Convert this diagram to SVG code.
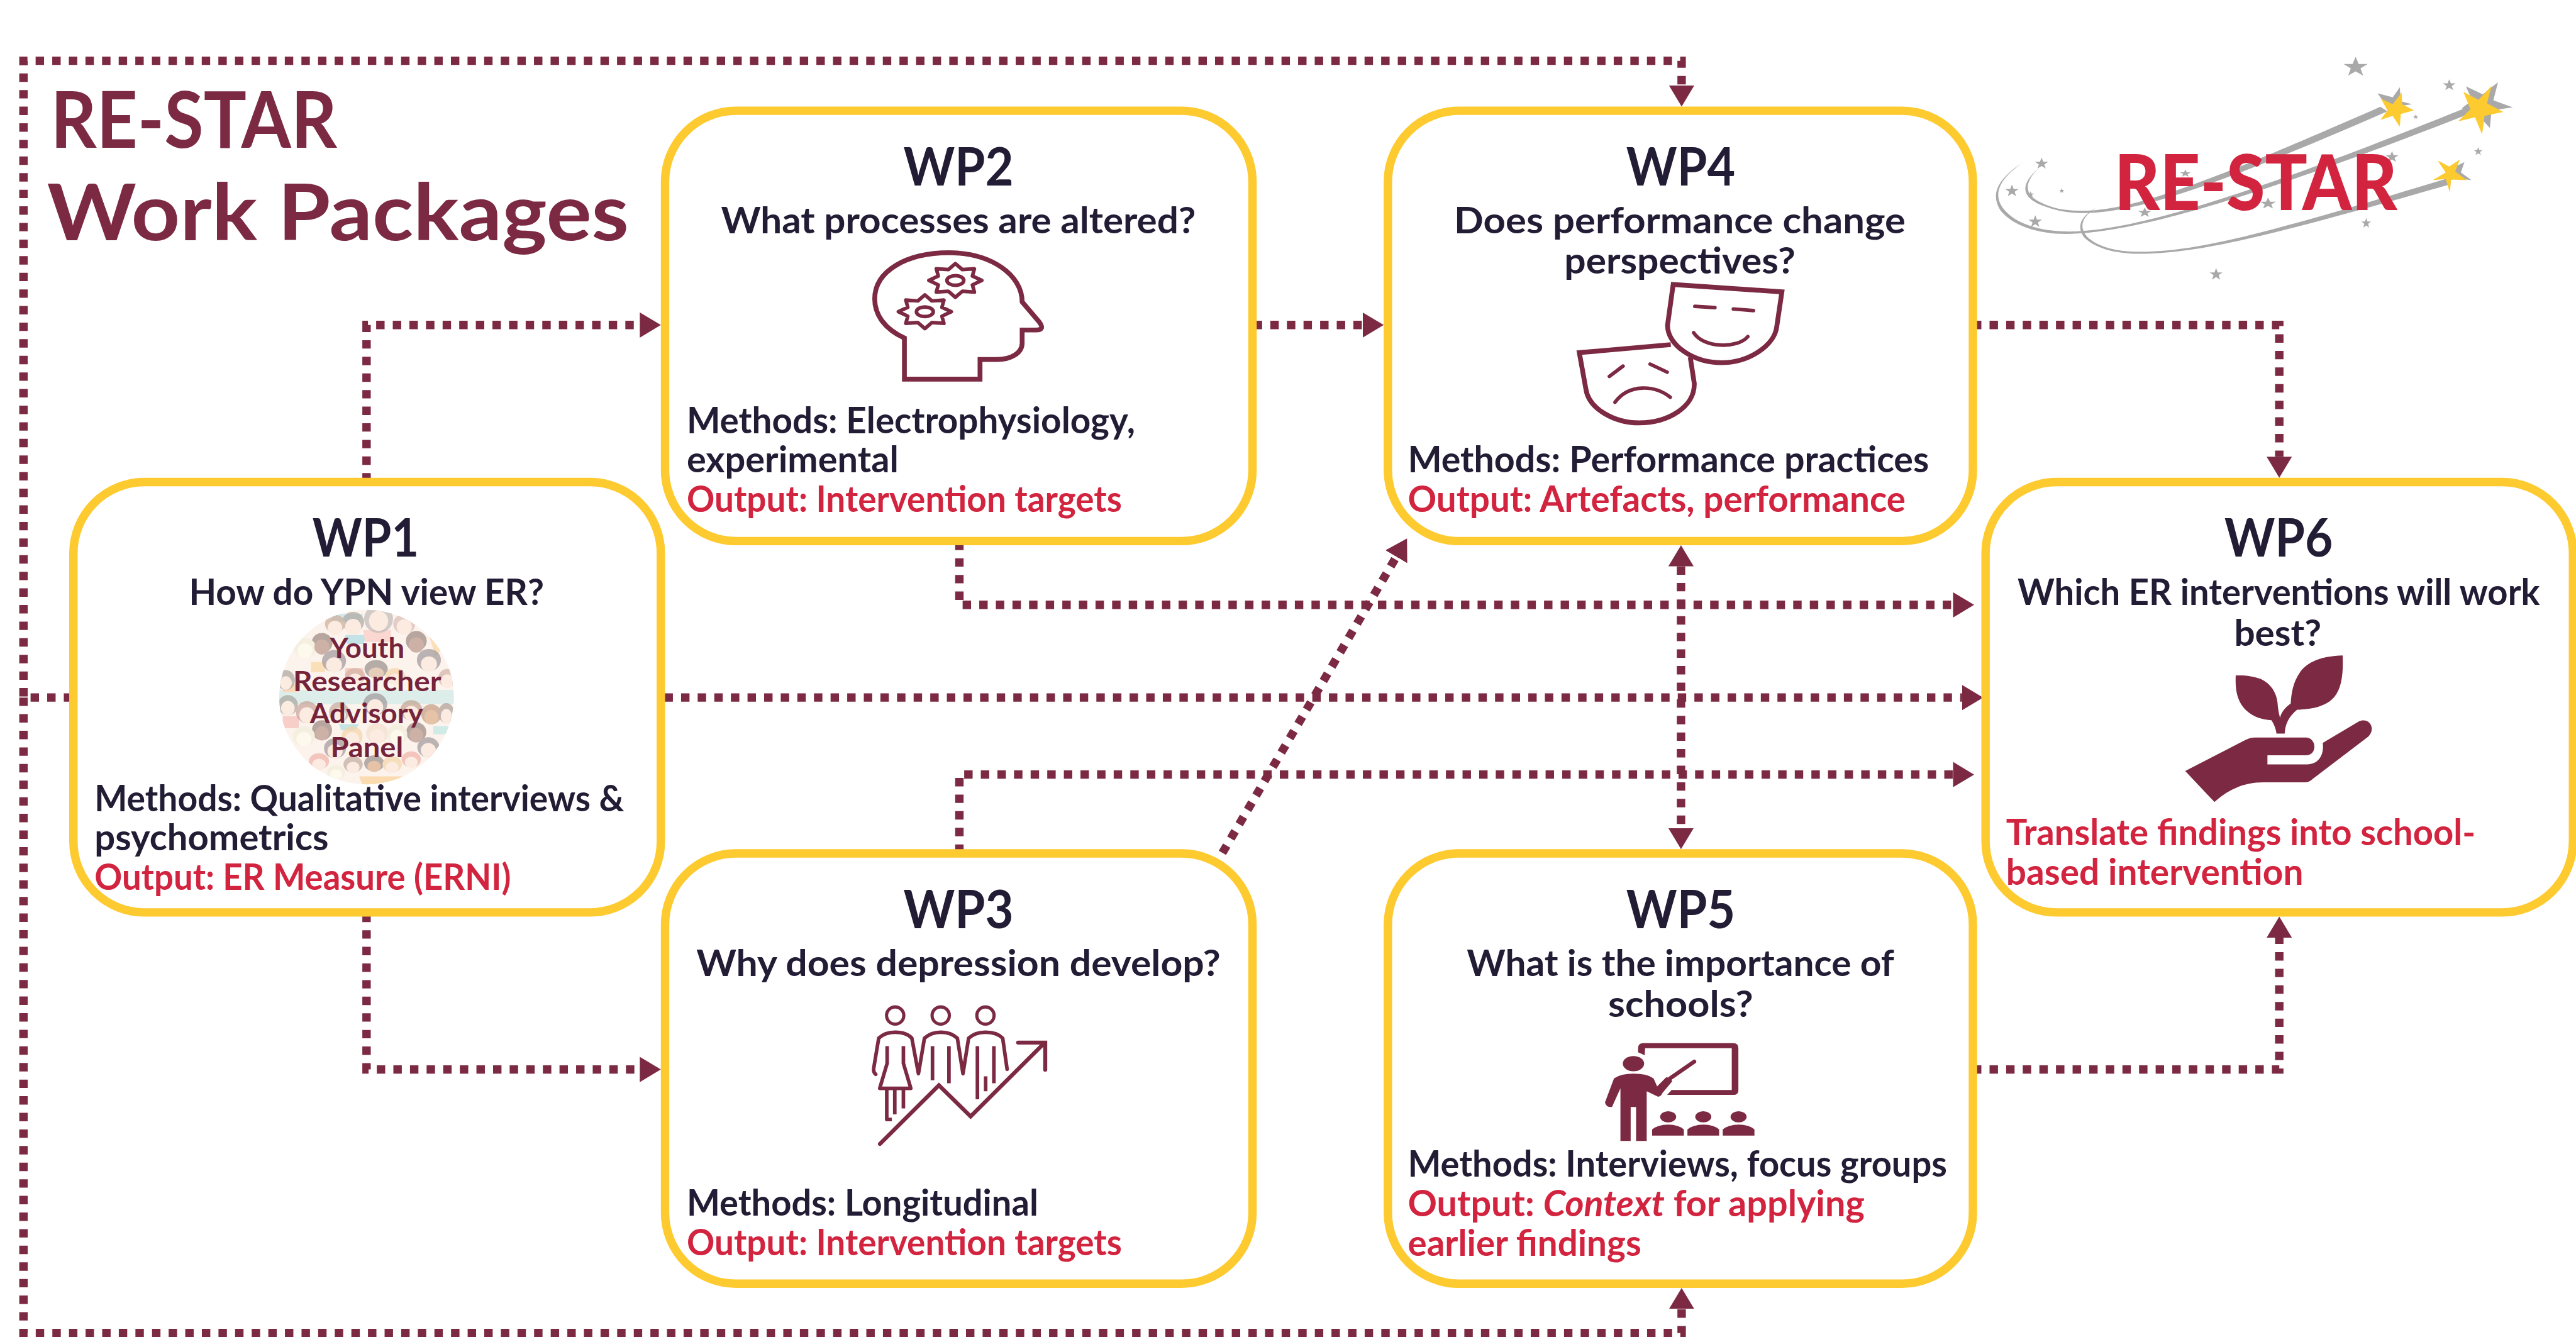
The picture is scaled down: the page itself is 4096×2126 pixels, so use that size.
<svg xmlns="http://www.w3.org/2000/svg" width="4096" height="2126" viewBox="0 0 4096 2126">
<style>
text{font-family:Lato,"Liberation Sans",sans-serif;font-weight:700}
.box{fill:#fff;stroke:#fdca2f;stroke-width:14}
.h{font-size:88px;fill:#221c35}
.b{font-size:59px;fill:#221c35}
.o{font-size:59px;fill:#d2233f}
.t{font-size:131px;fill:#7c2a43}
.y{font-size:46px;fill:#75233a}
.c{fill:none;stroke:#7c2a43;stroke-width:14;stroke-dasharray:14 13.6}
.i{fill:none;stroke:#7c2a43;stroke-width:24}
.f{fill:#7c2a43}
.g{fill:#a9a9a9}
.s{fill:#fdca2f}
</style>
<defs>
<marker id="a" markerUnits="userSpaceOnUse" markerWidth="36" markerHeight="44" refX="0" refY="22" orient="auto-start-reverse"><path d="M0 1L35 22L0 43Z" fill="#7c2a43"/></marker>
<polygon id="st" points="0,-1 .24,-.31 .95,-.31 .38,.12 .59,.81 0,.4 -.59,.81 -.38,.12 -.95,-.31 -.24,-.31"/>
<polygon id="gear" points="132,0 85,-22 95,-58 35,-54 0,-84 -35,-54 -95,-58 -85,-22 -132,0 -85,22 -95,58 -35,54 0,84 35,54 95,58 85,22"/>
<clipPath id="cc"><circle cx="537" cy="505" r="435"/></clipPath>
</defs>
<rect width="4096" height="2126" fill="#fff"/>
<g transform="scale(.95701)">
<g id="connectors">
<path class="c" d="M120 1159H39V101H2794V142" marker-end="url(#a)"/>
<path class="c" d="M39 1159V2215H2794V2175" marker-end="url(#a)"/>
<path class="c" d="M609 800V540H1063" marker-end="url(#a)"/>
<path class="c" d="M2083 540H2264" marker-end="url(#a)"/>
<path class="c" d="M3278 540H3787V759" marker-end="url(#a)"/>
<path class="c" d="M1594 900V1005H3245" marker-end="url(#a)"/>
<path class="c" d="M1104 1159H3260" marker-end="url(#a)"/>
<path class="c" d="M1594 1417V1287H3245" marker-end="url(#a)"/>
<path class="c" d="M2031 1417L2320 925" marker-end="url(#a)"/>
<path class="c" d="M2793 941V1376" marker-start="url(#a)" marker-end="url(#a)"/>
<path class="c" d="M609 1518V1777H1063" marker-end="url(#a)"/>
<path class="c" d="M3278 1777H3787V1558" marker-end="url(#a)"/>
</g>
<g id="title">
<text class="t" x="84" y="246" textLength="476" lengthAdjust="spacingAndGlyphs">RE-STAR</text>
<text class="t" x="78" y="399" textLength="967" lengthAdjust="spacingAndGlyphs">Work Packages</text>
</g>
<g id="wp1">
<rect class="box" x="122" y="801" width="976" height="715" rx="118"/>
<text class="h" x="519" y="925" textLength="177" lengthAdjust="spacingAndGlyphs">WP1</text>
<text class="b" x="314" y="1005" textLength="590" lengthAdjust="spacingAndGlyphs">How do YPN view ER?</text>
<g transform="translate(430 990) scale(.3333)">
<g clip-path="url(#cc)">
<rect x="90" y="60" width="900" height="900" fill="#fbeee6"/>
<g opacity=".75">
<path d="M100 470H980V540H100Z" fill="#bfe3e0"/>
<path d="M380 90H520L500 130H350Z" fill="#a8d8dc"/>
<path d="M430 195H540L520 240H440Z" fill="#8fd0d8"/>
<path d="M400 640H500L480 670H410Z" fill="#8fd0d8"/>
<path d="M870 650H970V690H870Z" fill="#a8dcd8"/>
<path d="M130 440H210L200 480H120Z" fill="#f9bd80"/>
<path d="M520 170H660V230H530Z" fill="#f7b8b0"/>
<path d="M260 330H330V380H260Z" fill="#f9c880"/>
<path d="M120 600H200V660H120Z" fill="#f5a8a0"/>
<path d="M500 900H720L690 950H520Z" fill="#f9c070"/>
<path d="M430 360H520V400H430Z" fill="#f5a898"/>
<path d="M840 170L920 260L880 300Z" fill="#f9c880"/>
</g>
<g fill="#a59c98" opacity=".7">
<ellipse cx="597" cy="115" rx="72" ry="70"/><ellipse cx="470" cy="130" rx="55" ry="50" fill="#8a8078"/><ellipse cx="380" cy="140" rx="50" ry="45" fill="#b88a70"/><ellipse cx="725" cy="140" rx="55" ry="50" fill="#c9a098"/>
<ellipse cx="315" cy="235" rx="52" ry="50" fill="#6e5248"/><ellipse cx="785" cy="225" rx="52" ry="50" fill="#6e5248"/><ellipse cx="230" cy="260" rx="55" ry="50" fill="#ece6c8"/>
<ellipse cx="375" cy="325" rx="60" ry="55" fill="#776c70"/><ellipse cx="848" cy="320" rx="60" ry="55" fill="#776c70"/><ellipse cx="585" cy="365" rx="58" ry="45" fill="#6a5e58"/><ellipse cx="680" cy="400" rx="50" ry="40" fill="#f0c080"/><ellipse cx="480" cy="400" rx="50" ry="40" fill="#c09080"/><ellipse cx="940" cy="410" rx="45" ry="45" fill="#c09080"/>
<ellipse cx="135" cy="420" rx="45" ry="50" fill="#857e74"/><ellipse cx="145" cy="545" rx="50" ry="50" fill="#857e74"/><ellipse cx="240" cy="580" rx="55" ry="55" fill="#b07a6c"/><ellipse cx="400" cy="580" rx="50" ry="50" fill="#a88878"/><ellipse cx="580" cy="540" rx="60" ry="55" fill="#776c70"/><ellipse cx="760" cy="570" rx="55" ry="50" fill="#a87a60"/><ellipse cx="860" cy="590" rx="50" ry="50" fill="#a87048"/><ellipse cx="935" cy="585" rx="40" ry="50" fill="#8a7468"/>
<ellipse cx="315" cy="670" rx="50" ry="50" fill="#6e5248"/><ellipse cx="465" cy="700" rx="52" ry="50" fill="#f0c080"/><ellipse cx="590" cy="685" rx="55" ry="50" fill="#f0d0b8"/><ellipse cx="785" cy="680" rx="50" ry="50" fill="#6e5248"/><ellipse cx="690" cy="690" rx="50" ry="50" fill="#ece6c8"/><ellipse cx="225" cy="700" rx="55" ry="50" fill="#ece6c8"/>
<ellipse cx="380" cy="760" rx="55" ry="50" fill="#776c70"/><ellipse cx="845" cy="755" rx="55" ry="50" fill="#776c70"/><ellipse cx="300" cy="825" rx="50" ry="40" fill="#e89080"/><ellipse cx="470" cy="840" rx="48" ry="40" fill="#a88878"/><ellipse cx="575" cy="835" rx="50" ry="40" fill="#6a5e58"/><ellipse cx="665" cy="840" rx="48" ry="40" fill="#f0c080"/><ellipse cx="760" cy="815" rx="48" ry="40" fill="#e89080"/><ellipse cx="385" cy="880" rx="45" ry="35" fill="#ece6c8"/>
</g>
<g fill="#f9e2d4">
<ellipse cx="597" cy="125" rx="48" ry="50"/><ellipse cx="470" cy="155" rx="40" ry="40"/><ellipse cx="380" cy="160" rx="36" ry="36"/><ellipse cx="725" cy="155" rx="38" ry="38"/>
<ellipse cx="315" cy="255" rx="38" ry="38" fill="#b89082"/><ellipse cx="785" cy="245" rx="38" ry="38" fill="#b89082"/><ellipse cx="230" cy="275" rx="38" ry="38" fill="#fdf6e6"/>
<ellipse cx="375" cy="345" rx="40" ry="38"/><ellipse cx="848" cy="340" rx="40" ry="38"/><ellipse cx="585" cy="385" rx="38" ry="28" fill="#dcb89c"/><ellipse cx="680" cy="415" rx="34" ry="28"/><ellipse cx="480" cy="415" rx="34" ry="28"/><ellipse cx="940" cy="425" rx="32" ry="34"/>
<ellipse cx="135" cy="435" rx="30" ry="34"/><ellipse cx="145" cy="560" rx="34" ry="36"/><ellipse cx="240" cy="595" rx="38" ry="40"/><ellipse cx="400" cy="595" rx="34" ry="36"/><ellipse cx="580" cy="555" rx="40" ry="40"/><ellipse cx="760" cy="585" rx="38" ry="36"/><ellipse cx="860" cy="605" rx="34" ry="36" fill="#dcaa80"/><ellipse cx="935" cy="600" rx="28" ry="36"/>
<ellipse cx="315" cy="685" rx="34" ry="36" fill="#b89082"/><ellipse cx="465" cy="715" rx="36" ry="36"/><ellipse cx="590" cy="700" rx="38" ry="36"/><ellipse cx="785" cy="695" rx="34" ry="36" fill="#b89082"/><ellipse cx="690" cy="705" rx="34" ry="36" fill="#fdf6e6"/><ellipse cx="225" cy="715" rx="38" ry="36" fill="#fdf6e6"/>
<ellipse cx="380" cy="775" rx="38" ry="36"/><ellipse cx="845" cy="770" rx="38" ry="36"/><ellipse cx="300" cy="840" rx="34" ry="28"/><ellipse cx="470" cy="855" rx="32" ry="28"/><ellipse cx="575" cy="850" rx="34" ry="28" fill="#dcaa80"/><ellipse cx="665" cy="855" rx="32" ry="28"/><ellipse cx="760" cy="830" rx="32" ry="28"/><ellipse cx="385" cy="890" rx="30" ry="25" fill="#fdf6e6"/>
</g>
<rect x="90" y="60" width="900" height="900" fill="#fff" opacity=".3"/>
</g>
</g>
<text class="y" x="548" y="1093" textLength="124" lengthAdjust="spacingAndGlyphs">Youth</text>
<text class="y" x="487" y="1148" textLength="246" lengthAdjust="spacingAndGlyphs">Researcher</text>
<text class="y" x="515" y="1202" textLength="188" lengthAdjust="spacingAndGlyphs">Advisory</text>
<text class="y" x="549" y="1258" textLength="121" lengthAdjust="spacingAndGlyphs">Panel</text>
<text class="b" x="157" y="1348" textLength="880" lengthAdjust="spacingAndGlyphs">Methods: Qualitative interviews &amp;</text>
<text class="b" x="157" y="1413" textLength="389" lengthAdjust="spacingAndGlyphs">psychometrics</text>
<text class="o" x="157" y="1479" textLength="692" lengthAdjust="spacingAndGlyphs">Output: ER Measure (ERNI)</text>
</g>
<g id="wp2">
<rect class="box" x="1105" y="184" width="976" height="715" rx="118"/>
<text class="h" x="1501" y="308" textLength="183" lengthAdjust="spacingAndGlyphs">WP2</text>
<text class="b" x="1198" y="388" textLength="789" lengthAdjust="spacingAndGlyphs">What processes are altered?</text>
<g transform="translate(1380 380) scale(.3333)">
<path class="i" d="M368 750V545C270 500 220 430 220 350C220 210 380 120 590 120C800 120 955 230 955 365L1040 465Q1070 505 1025 505H955V570C955 620 900 652 830 652H745V750Z"/>
<use href="#gear" x="622" y="258" class="i" style="stroke-width:18;stroke-linejoin:round"/>
<use href="#gear" x="470" y="414" class="i" style="stroke-width:18;stroke-linejoin:round"/>
<ellipse class="i" cx="622" cy="258" rx="42" ry="24" style="stroke-width:18"/>
<ellipse class="i" cx="470" cy="414" rx="42" ry="24" style="stroke-width:18"/>
</g>
<text class="b" x="1141" y="720" textLength="745" lengthAdjust="spacingAndGlyphs">Methods: Electrophysiology,</text>
<text class="b" x="1141" y="785" textLength="352" lengthAdjust="spacingAndGlyphs">experimental</text>
<text class="o" x="1141" y="851" textLength="723" lengthAdjust="spacingAndGlyphs">Output: Intervention targets</text>
</g>
<g id="wp3">
<rect class="box" x="1105" y="1418" width="976" height="715" rx="118"/>
<text class="h" x="1501" y="1542" textLength="183" lengthAdjust="spacingAndGlyphs">WP3</text>
<text class="b" x="1157" y="1622" textLength="871" lengthAdjust="spacingAndGlyphs">Why does depression develop?</text>
<g transform="translate(1420 1640) scale(.3333)">
<circle class="i" cx="202" cy="142" r="43" style="stroke-width:16"/><circle class="i" cx="429" cy="142" r="43" style="stroke-width:16"/><circle class="i" cx="652" cy="142" r="43" style="stroke-width:16"/>
<g class="i" style="stroke-width:18;stroke-linejoin:round">
<path stroke-linecap="round" d="M105 435Q92 425 95 405L120 255Q150 225 202 225Q260 225 285 255L318 432L348 255Q380 225 430 225Q480 225 512 255L540 432L568 255Q600 225 652 225Q710 225 738 255L760 410"/>
<path d="M162 295V380L125 505H280L243 380V295"/>
<path d="M160 510V660H185M200 510V635M243 510V605M388 295V465M470 295V480M612 295V560M653 445V520M694 295V480"/>
</g>
<path class="i" style="stroke-width:20;stroke-linecap:round" d="M126 782L420 490L578 645L945 280M815 277H950V412"/>
</g>
<text class="b" x="1141" y="2020" textLength="584" lengthAdjust="spacingAndGlyphs">Methods: Longitudinal</text>
<text class="o" x="1141" y="2086" textLength="723" lengthAdjust="spacingAndGlyphs">Output: Intervention targets</text>
</g>
<g id="wp4">
<rect class="box" x="2306" y="184" width="972" height="715" rx="118"/>
<text class="h" x="2702" y="308" textLength="181" lengthAdjust="spacingAndGlyphs">WP4</text>
<text class="b" x="2416" y="388" textLength="750" lengthAdjust="spacingAndGlyphs">Does performance change</text>
<text class="b" x="2599" y="455" textLength="384" lengthAdjust="spacingAndGlyphs">perspectives?</text>
<g transform="translate(2560 440) scale(.3333)">
<path d="M660 98L1202 135L1176 310C1165 400 1040 488 900 488C760 488 630 400 632 300Z" class="i" style="fill:#fff"/>
<path class="i" d="M648 398L192 438L225 620C240 720 370 788 490 788C630 788 770 710 765 590L745 460"/>
<path class="i" style="stroke-width:18;stroke-linecap:round" d="M768 207L868 213M960 220L1060 228M762 338C810 415 980 420 1032 358M342 556L410 505M545 495L630 535M370 685C440 590 570 600 645 660"/>
</g>
<text class="b" x="2339" y="785" textLength="866" lengthAdjust="spacingAndGlyphs">Methods: Performance practices</text>
<text class="o" x="2339" y="851" textLength="827" lengthAdjust="spacingAndGlyphs">Output: Artefacts, performance</text>
</g>
<g id="wp5">
<rect class="box" x="2306" y="1418" width="972" height="715" rx="118"/>
<text class="h" x="2702" y="1542" textLength="181" lengthAdjust="spacingAndGlyphs">WP5</text>
<text class="b" x="2437" y="1622" textLength="710" lengthAdjust="spacingAndGlyphs">What is the importance of</text>
<text class="b" x="2672" y="1690" textLength="241" lengthAdjust="spacingAndGlyphs">schools?</text>
<g transform="translate(2640 1710) scale(.3333)" class="f">
<path d="M278 130L245 115V95Q245 70 270 70H720Q745 70 745 95V305Q745 328 720 328H390L412 303H712V95H280Z"/>
<ellipse cx="222" cy="172" rx="53" ry="38"/>
<path d="M125 245L80 365Q85 390 115 388L157 295V557H208V388H235V557H288V310L345 337Q360 335 365 320L415 260Q410 240 385 240L340 285L322 245Q290 222 222 222Q160 222 125 245Z"/>
<path d="M405 245L525 162" stroke="#7c2a43" stroke-width="20" stroke-linecap="round"/>
<ellipse cx="395" cy="437" rx="40" ry="28"/><ellipse cx="570" cy="437" rx="40" ry="28"/><ellipse cx="746" cy="437" rx="40" ry="28"/>
<path d="M315 531V500Q345 476 395 476Q445 476 473 500V531Z"/><path d="M491 531V500Q521 476 571 476Q621 476 649 500V531Z"/><path d="M667 531V500Q697 476 747 476Q797 476 825 500V531Z"/>
</g>
<text class="b" x="2339" y="1955" textLength="896" lengthAdjust="spacingAndGlyphs">Methods: Interviews, focus groups</text>
<text class="o" x="2339" y="2021" textLength="759" lengthAdjust="spacingAndGlyphs">Output: <tspan font-style="italic">Context</tspan> for applying</text>
<text class="o" x="2339" y="2087" textLength="388" lengthAdjust="spacingAndGlyphs">earlier findings</text>
</g>
<g id="wp6">
<rect class="box" x="3299" y="801" width="976" height="715" rx="118"/>
<text class="h" x="3696" y="925" textLength="180" lengthAdjust="spacingAndGlyphs">WP6</text>
<text class="b" x="3352" y="1005" textLength="868" lengthAdjust="spacingAndGlyphs">Which ER interventions will work</text>
<text class="b" x="3712" y="1073" textLength="145" lengthAdjust="spacingAndGlyphs">best?</text>
<g transform="translate(3600 1070) scale(.3333)" class="f">
<path d="M92 633L390 480Q415 466 440 466H695C750 470 750 555 695 555H502V600H700C760 600 785 550 778 493L960 385C1010 365 1045 420 1005 462L725 675Q710 690 690 690H480C380 690 300 730 238 788Z"/>
<path d="M877 57C770 60 700 90 665 140C630 190 622 240 618 297C585 320 570 345 565 368C560 350 555 330 552 290C545 240 520 200 470 175C430 160 390 155 344 157C340 240 355 290 395 330C430 365 480 378 522 380C535 400 545 425 547 447H588C590 400 610 360 650 328C720 325 790 315 835 265C875 215 880 140 877 57Z"/>
</g>
<text class="o" x="3333" y="1404" textLength="780" lengthAdjust="spacingAndGlyphs">Translate findings into school-</text>
<text class="o" x="3333" y="1470" textLength="494" lengthAdjust="spacingAndGlyphs">based intervention</text>
</g>
<g id="logo">
<g transform="translate(3280 60) scale(.5869 .3333)">
<g class="g">
<path d="M185 655C140 730 140 790 190 830C230 865 270 872 320 870C470 860 700 700 1150 352L1170 375C720 720 480 875 320 882C260 885 220 865 180 835C130 790 135 730 185 655Z"/>
<path d="M145 622C70 710 50 790 85 865C120 940 190 972 260 974C420 978 700 850 1395 355L1415 378C720 860 420 985 260 986C180 986 110 945 75 870C45 790 65 710 145 622Z"/>
<path d="M348 852C305 900 295 950 320 1000C350 1050 400 1075 470 1075C640 1075 850 970 1335 712L1350 738C860 985 640 1085 470 1085C395 1085 340 1055 310 1000C290 950 300 900 348 852Z"/>
<use href="#st" transform="translate(1080 155) scale(36 52)"/>
<use href="#st" transform="translate(1345 245) scale(19 30)"/>
<use href="#st" transform="translate(1427 575) scale(13 22)"/>
<use href="#st" transform="translate(1250 403) scale(8 13)"/>
<use href="#st" transform="translate(1183 603) scale(19 30)"/>
<use href="#st" transform="translate(1110 933) scale(14 27)"/>
<use href="#st" transform="translate(685 1188) scale(19 32)"/>
<use href="#st" transform="translate(191 636) scale(20 30)"/>
<use href="#st" transform="translate(107 772) scale(20 32)"/>
<use href="#st" transform="translate(160 790) scale(10 17)"/>
<use href="#st" transform="translate(248 771) scale(8 13)"/>
<use href="#st" transform="translate(173 925) scale(20 32)"/>
<use href="#st" transform="translate(483 880) scale(20 26)"/>
<use href="#st" transform="translate(832 835) scale(24 30)"/>
<use href="#st" transform="translate(598 685) scale(16 20)"/>
<polygon points="1142,285 1185,305 1205,255 1208,325 1240,340 1200,350 1205,400 1170,355"/>
<polygon points="1392,250 1440,290 1483,230 1470,320 1525,355 1465,370 1460,458 1420,380 1380,360 1410,320"/>
<polygon points="1322,628 1350,660 1388,628 1378,680 1408,718 1365,708 1345,720"/>
</g>
<g class="s">
<polygon points="1210,282 1212,340 1245,370 1208,388 1205,452 1185,398 1150,418 1170,370 1152,312 1185,340"/>
<polygon points="1465,248 1452,335 1498,378 1445,398 1438,490 1418,405 1370,425 1405,365 1385,278 1428,318"/>
<polygon points="1375,615 1362,675 1395,718 1350,715 1347,782 1335,712 1298,718 1335,680 1312,620 1345,650"/>
</g>
</g>
<text x="3513" y="349" font-size="128" fill="#d2233f" style="font-weight:900" textLength="470" lengthAdjust="spacingAndGlyphs">RE-STAR</text>
</g>
</g>
</svg>
